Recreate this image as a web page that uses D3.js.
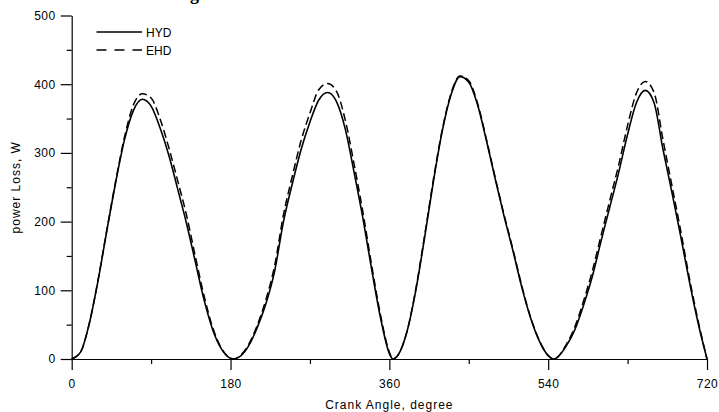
<!DOCTYPE html>
<html>
<head>
<meta charset="utf-8">
<script src="https://cdn.jsdelivr.net/npm/d3@7/dist/d3.min.js"></script>
<style>
  html, body { margin: 0; padding: 0; background: #fff; }
  svg { display: block; }
  text { font-family: "Liberation Sans", Arial, sans-serif; fill: #000; }
</style>
</head>
<body>
<svg id="chart" width="719" height="412"></svg>
<script>
// Crank angle samples (degrees)
const angles = [
  0, 10, 20, 30, 40, 50, 60, 70, 80, 90, 100, 110, 120, 130, 140, 150, 160, 170, 180, 183,
  190, 200, 210, 220, 230, 240, 250, 260, 270, 280, 290, 300, 310, 320, 330, 340, 350, 360, 364,
  370, 380, 390, 400, 410, 420, 430, 440, 450, 460, 470, 480, 490, 500, 510, 520, 530, 540, 546,
  550, 560, 570, 580, 590, 600, 610, 620, 630, 640, 650, 660, 670, 680, 690, 700, 710, 720
];

// Power loss, hydrodynamic model (W)
const hydLoss = [
  0, 10, 52, 115, 188, 258, 320, 362, 378, 368, 337, 297, 248, 198, 142, 86, 42, 14, 1, 0,
  3, 18, 45, 80, 128, 200, 255, 305, 345, 377, 388, 375, 335, 272, 205, 130, 60, 8, 0,
  6, 40, 100, 177, 259, 332, 385, 411, 403, 370, 318, 262, 208, 158, 105, 60, 26, 5, 0,
  2, 18, 42, 78, 120, 172, 222, 272, 327, 373, 391, 373, 306, 244, 180, 113, 52, 0
];

// Power loss, elastohydrodynamic model (W)
const ehdLoss = [
  0, 10, 52, 116, 189, 260, 324, 370, 386, 380, 350, 308, 260, 210, 150, 92, 45, 15, 1, 0,
  4, 20, 48, 86, 136, 210, 266, 318, 358, 392, 401, 390, 348, 284, 214, 136, 64, 10, 0,
  6, 40, 102, 180, 262, 334, 387, 412, 405, 372, 320, 264, 210, 160, 107, 61, 27, 5, 0,
  2, 20, 46, 84, 128, 180, 232, 283, 340, 387, 404, 388, 320, 254, 188, 118, 55, 0
];

const xMajorTicks = [0, 180, 360, 540, 720];
const xMinorTicks = [90, 270, 450, 630];
const yMajorTicks = [0, 100, 200, 300, 400, 500];
const yMinorTicks = [50, 150, 250, 350, 450];

const seriesNames = ["HYD", "EHD"];
const chartTitle = "Engine total loss with HYD and EHD";
const xTitle = "Crank Angle, degree";
const yTitle = "power Loss, W";

const svg = d3.select("#chart");

const x = d3.scaleLinear().domain([0, 720]).range([71.7, 707]);
const y = d3.scaleLinear().domain([0, 500]).range([359, 15.5]);

// Title (sits at the very top edge of the page)
svg.append("text")
  .attr("x", 168).attr("y", 0)
  .style("font-family", "'Liberation Serif', 'Times New Roman', serif")
  .style("font-weight", "bold")
  .style("font-size", "18px")
  .text(chartTitle);

// Axes
function styleAxis(g) {
  g.selectAll("path, line").attr("stroke", "#000").attr("stroke-width", 1.2);
  g.selectAll("text").style("font-size", "12px").style("letter-spacing", "0.5px");
}

svg.append("g")
  .attr("transform", `translate(0,${y(0)})`)
  .call(d3.axisBottom(x).tickValues(xMajorTicks).tickSize(11).tickSizeOuter(0).tickPadding(9))
  .call(styleAxis);

svg.append("g")
  .attr("transform", `translate(0,${y(0)})`)
  .call(d3.axisBottom(x).tickValues(xMinorTicks).tickSize(5).tickFormat(""))
  .call(g => g.select(".domain").remove())
  .call(styleAxis);

svg.append("g")
  .attr("transform", `translate(${x(0)},0)`)
  .call(d3.axisLeft(y).tickValues(yMajorTicks).tickSize(11).tickSizeOuter(0).tickPadding(5))
  .call(styleAxis);

svg.append("g")
  .attr("transform", `translate(${x(0)},0)`)
  .call(d3.axisLeft(y).tickValues(yMinorTicks).tickSize(5).tickFormat(""))
  .call(g => g.select(".domain").remove())
  .call(styleAxis);

// Axis titles
svg.append("text")
  .attr("x", (x(0) + x(720)) / 2).attr("y", 409)
  .attr("text-anchor", "middle")
  .style("font-size", "12px").style("letter-spacing", "1px")
  .text(xTitle);

svg.append("text")
  .attr("transform", `translate(20,${(y(0) + y(500)) / 2}) rotate(-90)`)
  .attr("text-anchor", "middle")
  .style("font-size", "12px").style("letter-spacing", "1px")
  .text(yTitle);

// Curves
const line = d3.line()
  .x((d, i) => x(angles[i]))
  .y(d => y(d))
  .curve(d3.curveMonotoneX);

svg.append("path")
  .datum(ehdLoss)
  .attr("fill", "none")
  .attr("stroke", "#000")
  .attr("stroke-width", 1.5)
  .attr("stroke-dasharray", "8,4")
  .attr("d", line);

svg.append("path")
  .datum(hydLoss)
  .attr("fill", "none")
  .attr("stroke", "#000")
  .attr("stroke-width", 1.6)
  .attr("d", line);

// Legend
const legend = svg.append("g");
const legendRows = [
  { name: seriesNames[0], dash: null, yPos: 32 },
  { name: seriesNames[1], dash: "10,8", yPos: 50 }
];
legendRows.forEach(r => {
  legend.append("line")
    .attr("x1", 96.5).attr("x2", 142)
    .attr("y1", r.yPos).attr("y2", r.yPos)
    .attr("stroke", "#000").attr("stroke-width", 1.5)
    .attr("stroke-dasharray", r.dash);
  legend.append("text")
    .attr("x", 146).attr("y", r.yPos + 4.5)
    .style("font-size", "12px")
    .text(r.name);
});
</script>
</body>
</html>
